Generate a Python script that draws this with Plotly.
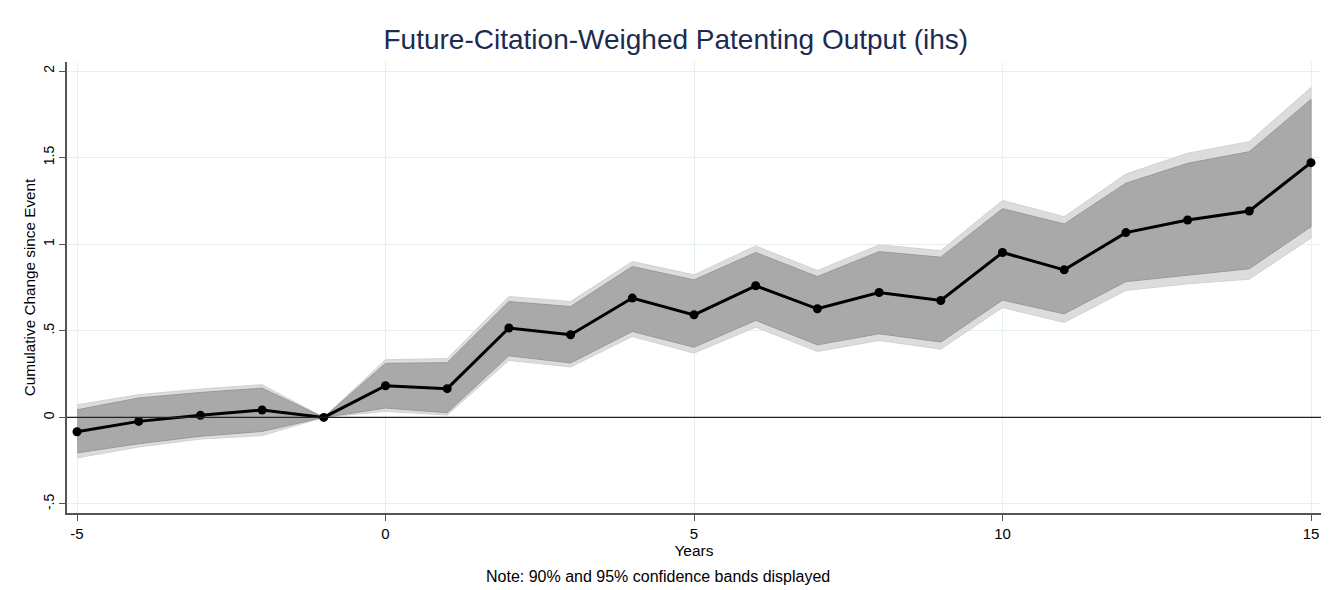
import plotly.graph_objects as go

# Event-study estimates: years relative to the event, point estimates and bands
years = list(range(-5, 16))
coef = [-0.083, -0.023, 0.012, 0.043, 0.0, 0.183, 0.166, 0.516, 0.477, 0.689,
        0.592, 0.760, 0.627, 0.721, 0.675, 0.952, 0.852, 1.067, 1.140, 1.192, 1.471]
ci90_hi = [0.044, 0.112, 0.144, 0.169, 0.0, 0.312, 0.316, 0.669, 0.640, 0.871,
           0.794, 0.952, 0.813, 0.957, 0.925, 1.205, 1.117, 1.352, 1.467, 1.534, 1.836]
ci90_lo = [-0.205, -0.152, -0.109, -0.081, 0.0, 0.054, 0.027, 0.356, 0.314, 0.496,
           0.405, 0.560, 0.419, 0.483, 0.435, 0.677, 0.598, 0.784, 0.823, 0.858, 1.101]
ci95_hi = [0.073, 0.131, 0.164, 0.189, 0.0, 0.333, 0.340, 0.698, 0.669, 0.900,
           0.823, 0.990, 0.848, 0.996, 0.963, 1.253, 1.159, 1.405, 1.525, 1.592, 1.905]
ci95_lo = [-0.234, -0.171, -0.125, -0.105, 0.0, 0.035, 0.014, 0.329, 0.291, 0.467,
           0.371, 0.521, 0.381, 0.444, 0.394, 0.634, 0.548, 0.733, 0.771, 0.798, 1.035]

x_ticks = [-5, 0, 5, 10, 15]
x_tick_text = ["-5", "0", "5", "10", "15"]
y_ticks = [-0.5, 0, 0.5, 1, 1.5, 2]
y_tick_text = ["-.5", "0", ".5", "1", "1.5", "2"]

FONT = "Arial, Liberation Sans, Helvetica, sans-serif"


def band(lo, hi):
    """Closed polygon running along the upper bound and back along the lower one."""
    return years + years[::-1], hi + lo[::-1]


fig = go.Figure()

bx, by = band(ci95_lo, ci95_hi)
fig.add_trace(go.Scatter(x=bx, y=by, fill="toself", mode="lines",
                         fillcolor="#dcdcdc", line=dict(color="#d2d2d2", width=1),
                         hoverinfo="skip", showlegend=False))

bx, by = band(ci90_lo, ci90_hi)
fig.add_trace(go.Scatter(x=bx, y=by, fill="toself", mode="lines",
                         fillcolor="#a9a9a9", line=dict(color="#999999", width=1),
                         hoverinfo="skip", showlegend=False))

fig.add_trace(go.Scatter(x=years, y=coef, mode="lines+markers",
                         line=dict(color="black", width=3),
                         marker=dict(color="black", size=9),
                         showlegend=False))

# reference line at zero across the full plot width
fig.add_shape(type="line", xref="paper", x0=0, x1=1, yref="y", y0=0, y1=0,
              line=dict(color="#222222", width=1.3), layer="above")

fig.update_layout(
    width=1341, height=590,
    margin=dict(l=67, r=20, t=62, b=77),
    paper_bgcolor="white", plot_bgcolor="white",
    font=dict(family=FONT, size=14, color="black"),
    title=dict(text="Future-Citation-Weighed Patenting Output (ihs)",
               font=dict(family=FONT, size=28, color="#1c2b50"),
               xref="container", x=0.504, xanchor="center",
               yref="container", y=1 - 39 / 590, yanchor="middle"),
    xaxis=dict(range=[-5.162, 15.162], tickvals=x_ticks, ticktext=x_tick_text,
               showgrid=True, gridcolor="#e6f0f1", gridwidth=1,
               zeroline=False, showline=True, linecolor="#555555", linewidth=1.5,
               ticks="outside", ticklen=6, tickcolor="#555555",
               tickfont=dict(size=15),
               title=dict(text="Years", font=dict(size=15.5), standoff=2)),
    yaxis=dict(range=[-0.552, 2.052], tickvals=y_ticks, ticktext=y_tick_text,
               tickangle=-90,
               showgrid=True, gridcolor="#e6f0f1", gridwidth=1,
               zeroline=False, showline=True, linecolor="#555555", linewidth=1.5,
               ticks="outside", ticklen=6, tickcolor="#555555",
               tickfont=dict(size=14),
               title=dict(text="Cumulative Change since Event", font=dict(size=15.3),
                          standoff=1)),
    annotations=[dict(text="Note: 90% and 95% confidence bands displayed",
                      xref="paper", yref="paper", x=(658 - 67) / (1321 - 67),
                      y=-(576 - 513) / (513 - 62), xanchor="center", yanchor="middle",
                      showarrow=False, font=dict(family=FONT, size=16, color="black"))],
)

fig.write_html("out.html")
